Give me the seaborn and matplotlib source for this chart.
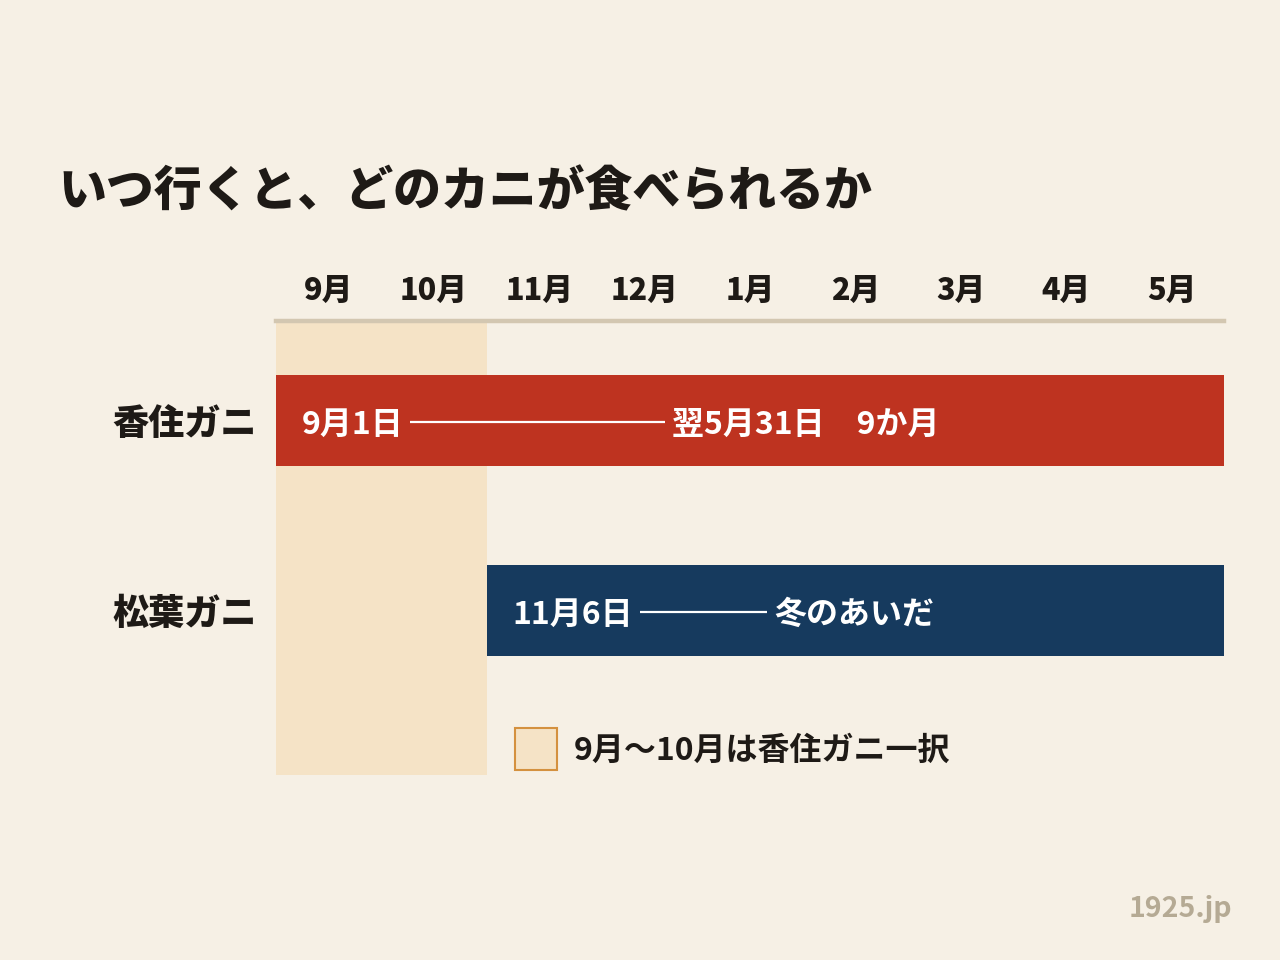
import matplotlib
matplotlib.use("Agg")
import matplotlib.pyplot as plt
import seaborn as sns
from matplotlib.patches import Patch

# ---- data ----
months = ["9月", "10月", "11月", "12月", "1月", "2月", "3月", "4月", "5月"]
crabs = ["香住ガニ", "松葉ガニ"]
season_start = [0, 2]      # month index (0 = 9月)
season_end = [9, 9]
start_labels = ["9月1日", "11月6日"]
end_labels = ["翌5月31日　9か月", "冬のあいだ"]
band_range = [0, 2]
legend_label = "9月～10月は香住ガニ一択"
title = "いつ行くと、どのカニが食べられるか"
credit = "1925.jp"

# ---- style ----
BG = "#F6F0E5"
RED = "#BE3320"
NAVY = "#163A5E"
BAND = "#F5E3C6"
BAND_EDGE = "#D4913F"
RULE = "#D3C7B1"
INK = "#1E1A16"
CREDIT = "#B5AA94"
DASH_PX = [255, 127]   # connector line length in pixels

sns.set_style("white")
plt.rcParams["font.family"] = ["Noto Sans CJK JP", "DejaVu Sans"]
plt.rcParams["font.weight"] = "bold"

fig = plt.figure(figsize=(12.8, 9.6), dpi=100, facecolor=BG)
ax = fig.add_axes([276 / 1280, 1 - 775 / 960, 948 / 1280, 454 / 960])
ax.set_facecolor(BG)

sns.barplot(x=season_end, y=crabs, hue=crabs, palette=[RED, NAVY], legend=False,
            orient="h", width=0.48, saturation=1, ax=ax, zorder=3)
for p, s, e in zip(ax.patches, season_start, season_end):
    p.set_x(s)
    p.set_width(e - s)
    p.set_edgecolor("none")

ax.axvspan(band_range[0], band_range[1], color=BAND, zorder=1, lw=0)

ax.set_xlim(0, len(months))
ax.set_ylim(1.866, -0.524)

ax.xaxis.tick_top()
ax.set_xticks([i + 0.5 for i in range(len(months))])
ax.set_xticklabels(months, fontsize=22, fontweight=900, color=INK)
ax.tick_params(axis="x", length=0, pad=11)
ax.set_yticks(range(len(crabs)))
ax.set_yticklabels(crabs, fontsize=26, fontweight=900, color=INK)
ax.tick_params(axis="y", length=0, pad=14)
ax.set_xlabel("")
ax.set_ylabel("")

for side in ["left", "right", "bottom"]:
    ax.spines[side].set_visible(False)
ax.spines["top"].set_color(RULE)
ax.spines["top"].set_linewidth(3.2)
ax.spines["top"].set_zorder(5)

fig.canvas.draw()
renderer = fig.canvas.get_renderer()
inv = ax.transData.inverted()
for i, (s, a, b, dpx) in enumerate(zip(season_start, start_labels, end_labels, DASH_PX)):
    t1 = ax.annotate(a, xy=(s, i), xytext=(18.5, -3.2), textcoords="offset points",
                     va="center", ha="left", color="white", fontsize=23, fontweight="bold", zorder=4)
    bb = t1.get_window_extent(renderer)
    _, yc = ax.transData.transform((s, i))
    yc -= 1.5
    x0 = bb.x1 + 7
    x1 = x0 + dpx
    (dx0, dy), (dx1, _) = inv.transform([(x0, yc), (x1, yc)])
    ax.plot([dx0, dx1], [dy, dy], color="white", lw=1.6, zorder=4, solid_capstyle="butt")
    dx2, _ = inv.transform((x1 + 7, yc))
    ax.annotate(b, xy=(dx2, i), xytext=(0, -3.2), textcoords="offset points",
                va="center", ha="left", color="white", fontsize=23, fontweight="bold", zorder=4)

fig.text(58 / 1280, 1 - 192 / 960, title, fontsize=34.5, fontweight=900, color=INK,
         ha="left", va="center")

handle = Patch(facecolor=BAND, edgecolor=BAND_EDGE, linewidth=1.5)
fig.legend([handle], [legend_label], loc="center left",
           bbox_to_anchor=(515 / 1280, 1 - 749 / 960), bbox_transform=fig.transFigure,
           frameon=False, borderpad=0, borderaxespad=0, handlelength=1.32, handleheight=1.6,
           handletextpad=0.52, prop={"size": 23, "weight": "bold"}, labelcolor=INK)

fig.text(1232 / 1280, 1 - 909 / 960, credit, fontsize=20.5, fontweight="bold", color=CREDIT,
         ha="right", va="center")

fig.savefig("out.png", dpi=100, facecolor=BG)
